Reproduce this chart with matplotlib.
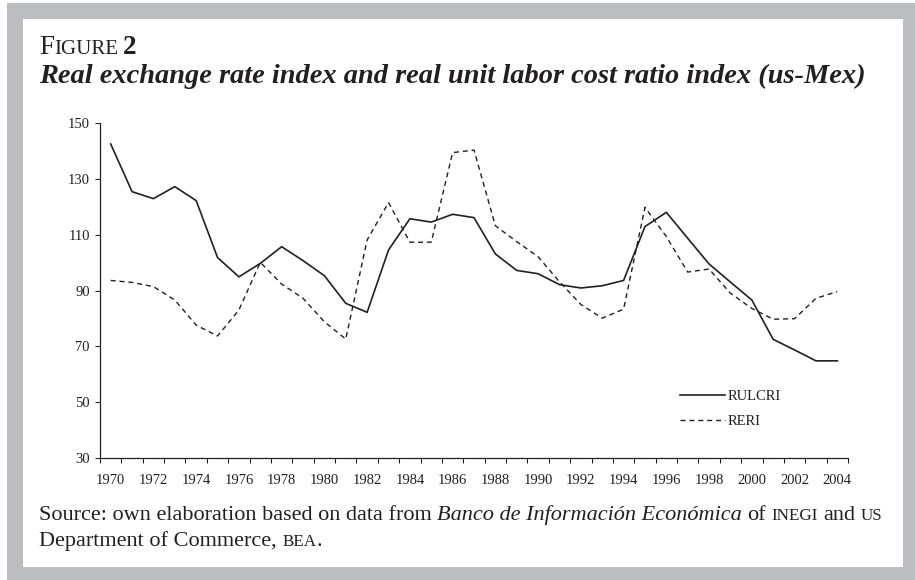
import matplotlib
matplotlib.use("Agg")
import matplotlib.pyplot as plt
from matplotlib.patches import Rectangle
from matplotlib.transforms import IdentityTransform

# ---------------------------------------------------------------------------
# Data (index values)
# ---------------------------------------------------------------------------
years = list(range(1970, 2005))
rulcri = [142.5, 125.4, 122.9, 127.2, 122.2, 101.8, 94.9, 99.7, 105.7, 100.7,
          95.3, 85.4, 82.2, 104.5, 115.7, 114.5, 117.3, 116.1, 103.1, 97.2,
          96.0, 92.1, 90.9, 91.7, 93.6, 112.9, 118.0, 108.7, 99.5, 93.0,
          86.6, 72.5, 68.7, 64.8, 64.8]
reri = [93.6, 92.9, 91.4, 86.6, 77.6, 73.7, 83.0, 100.1, 92.3, 87.2,
        78.8, 72.6, 108.1, 121.5, 107.3, 107.3, 139.4, 140.3, 113.2, 107.5,
        102.1, 93.1, 85.0, 80.1, 83.3, 119.8, 109.3, 96.6, 97.7, 89.0,
        83.6, 79.7, 79.9, 87.2, 89.6]
y_ticks = [30, 50, 70, 90, 110, 130, 150]
x_labels = years[::2]

W, H = 915, 580
SERIF = "Liberation Serif"
INK = "#231f20"
GREY = "#bcbdc0"

fig = plt.figure(figsize=(W / 100, H / 100), dpi=100, facecolor="white")

# grey frame and white panel (in pixels, y from top)
def px_rect(x0, y0, x1, y1, color):
    fig.patches.append(Rectangle((x0 / W, 1 - y1 / H), (x1 - x0) / W, (y1 - y0) / H,
                                 transform=fig.transFigure, facecolor=color,
                                 edgecolor="none", zorder=-10))

px_rect(7, 3, 915, 580, GREY)
px_rect(23, 19, 903, 567, "white")

# ---------------------------------------------------------------------------
# Axes
# ---------------------------------------------------------------------------
ax = fig.add_axes([100 / W, 1 - 458 / H, (848 - 100) / W, (458 - 123) / H])
ax.set_facecolor("none")
ax.plot(years, rulcri, color=INK, lw=1.2, solid_joinstyle="miter", label="RULCRI")
ax.plot(years, reri, color=INK, lw=1.0, linestyle=(0, (3.6, 2.8)), label="RERI")

ax.set_xlim(1969.5, 2004.5)
ax.set_ylim(30, 150)
ax.set_yticks(y_ticks)
ax.set_xticks([y - 0.5 for y in years] + [2004.5])
ax.set_xticklabels([])
ax.set_xticks(x_labels, minor=True)
ax.set_xticklabels([str(y) for y in x_labels], minor=True)
ax.tick_params(axis="x", which="major", direction="out", length=3.6, width=0.75, color=INK)
ax.tick_params(axis="x", which="minor", length=0, pad=11.5, labelsize=10.5, labelcolor=INK)
ax.tick_params(axis="y", direction="out", length=3.6, width=0.75, color=INK,
               pad=3.6, labelsize=10.5, labelcolor=INK)
for lab in ax.get_xticklabels(minor=True) + ax.get_yticklabels():
    lab.set_family(SERIF)
for side in ["top", "right"]:
    ax.spines[side].set_visible(False)
for side in ["left", "bottom"]:
    ax.spines[side].set_linewidth(0.9)
    ax.spines[side].set_color(INK)

leg = ax.legend(loc="upper left", bbox_to_anchor=(680 / W, 1 - 390 / H),
                bbox_transform=fig.transFigure, frameon=False, borderpad=0,
                borderaxespad=0, handlelength=3.1, handletextpad=0.15,
                labelspacing=0.8, prop={"family": SERIF, "size": 10.5})
for t in leg.get_texts():
    t.set_color(INK)

# ---------------------------------------------------------------------------
# Title and source (text runs with mixed styles)
# ---------------------------------------------------------------------------
renderer = fig.canvas.get_renderer()


def put_runs(runs, x, y):
    for s, size, style, weight, gap in runs:
        t = fig.text(x, H - y, s, transform=IdentityTransform(), fontsize=size,
                     fontstyle=style, fontweight=weight, family=SERIF, color=INK,
                     ha="left", va="baseline")
        x = t.get_window_extent(renderer=renderer).x1 + gap


put_runs([("F", 19.5, "normal", "normal", 0),
          ("IGURE", 15, "normal", "normal", 5),
          ("2", 19.5, "normal", "bold", 0)], 39, 54)
put_runs([("Real exchange rate index and real unit labor cost ratio index (us-Mex)",
           20.4, "italic", "bold", 0)], 39, 83)

sp = 5.5
put_runs([("Source: own elaboration based on data from", 16, "normal", "normal", sp),
          ("Banco de Información Económica", 16, "italic", "normal", sp),
          ("of", 16, "normal", "normal", sp),
          ("INEGI", 12.3, "normal", "normal", sp),
          ("and", 16, "normal", "normal", sp),
          ("US", 12.3, "normal", "normal", 0)], 39, 520)
put_runs([("Department of Commerce,", 16, "normal", "normal", sp),
          ("BEA", 12.3, "normal", "normal", 0),
          (".", 16, "normal", "normal", 0)], 39, 546)

fig.savefig("out.png", dpi=100, facecolor="white")
